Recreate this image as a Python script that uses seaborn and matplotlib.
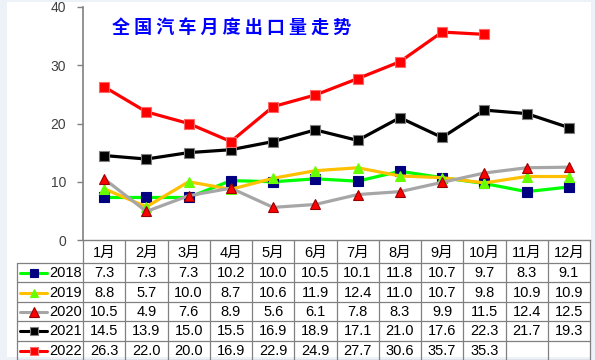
import numpy as np
import pandas as pd
import matplotlib
matplotlib.use("Agg")
import matplotlib.pyplot as plt
from matplotlib.lines import Line2D
from matplotlib.patches import Rectangle
import seaborn as sns

# data (unit: 10k vehicles)
months = ["1月", "2月", "3月", "4月", "5月", "6月", "7月", "8月", "9月", "10月", "11月", "12月"]
years = ["2018", "2019", "2020", "2021", "2022"]
v2018 = [7.3, 7.3, 7.3, 10.2, 10.0, 10.5, 10.1, 11.8, 10.7, 9.7, 8.3, 9.1]
v2019 = [8.8, 5.7, 10.0, 8.7, 10.6, 11.9, 12.4, 11.0, 10.7, 9.8, 10.9, 10.9]
v2020 = [10.5, 4.9, 7.6, 8.9, 5.6, 6.1, 7.8, 8.3, 9.9, 11.5, 12.4, 12.5]
v2021 = [14.5, 13.9, 15.0, 15.5, 16.9, 18.9, 17.1, 21.0, 17.6, 22.3, 21.7, 19.3]
v2022 = [26.3, 22.0, 20.0, 16.9, 22.9, 24.9, 27.7, 30.6, 35.7, 35.3, np.nan, np.nan]
title = "全国汽车月度出口量走势"

values = [v2018, v2019, v2020, v2021, v2022]
df = pd.DataFrame({
    "pos": np.tile(np.arange(len(months)), len(years)),
    "year": np.repeat(years, len(months)),
    "val": np.concatenate(values),
})

# look of each series: line colour, marker, marker face, marker edge
styles = {
    "2018": dict(color="#00FF00", marker="s", mfc="#000080", mec="#000080", ms=6.5),
    "2019": dict(color="#FFC000", marker="^", mfc="#66FF00", mec="#66FF00", ms=6.5),
    "2020": dict(color="#A6A6A6", marker="^", mfc="#FF0000", mec="#990000", ms=7.5),
    "2021": dict(color="#000000", marker="s", mfc="#000000", mec="#808080", ms=6.5),
    "2022": dict(color="#FF0000", marker="s", mfc="#FF0000", mec="#FF6666", ms=6.5),
}

sns.set_style("white")
fonts = ["Liberation Sans", "Noto Sans CJK SC", "DejaVu Sans"]
plt.rcParams["font.family"] = fonts

W, H = 595, 360
fig = plt.figure(figsize=(W / 100, H / 100), dpi=100, facecolor="#EDF2F9")

# pixel-coordinate layer for the frame and the data table
bg = fig.add_axes([0, 0, 1, 1], zorder=0)
bg.set_xlim(0, W)
bg.set_ylim(H, 0)
bg.axis("off")
bg.add_patch(Rectangle((7, 2), 584, 355, facecolor="white", edgecolor="none"))

x0, x1 = 83, 590
y_axis_bottom, y_top = 240, 7
ax = fig.add_axes([x0 / W, 1 - y_axis_bottom / H, (x1 - x0) / W, (y_axis_bottom - y_top) / H], zorder=2)
ax.patch.set_alpha(0)

for yr, vals in zip(years, values):
    st = styles[yr]
    sns.lineplot(data=df[df["year"] == yr], x="pos", y="val", ax=ax,
                 color=st["color"], lw=2.3, marker=st["marker"], markersize=st["ms"],
                 markerfacecolor=st["mfc"], markeredgecolor=st["mec"], markeredgewidth=0.8,
                 legend=False)

ax.set_xlim(-0.5, len(months) - 0.5)
ax.set_ylim(0, 40)
ax.set_yticks([0, 10, 20, 30, 40])
ax.set_xticks([])
ax.set_xlabel("")
ax.set_ylabel("")
ax.tick_params(axis="y", direction="out", length=4, width=1, color="#808080",
               labelsize=10, labelcolor="#404040", pad=8, left=True)
for s in ["top", "right"]:
    ax.spines[s].set_visible(False)
ax.spines["left"].set_color("#808080")
ax.spines["bottom"].set_color("#808080")
ax.spines["left"].set_linewidth(1.2)
ax.spines["bottom"].set_linewidth(1)

ax.text(0.294, 0.915, " ".join(title), transform=ax.transAxes, ha="center", va="center",
        color="#0000FF", fontsize=13, fontweight="bold",
        family=["Noto Sans CJK SC", "DejaVu Sans"])

# data table under the chart
grid_c = "#808080"
col_w = (x1 - x0) / len(months)
hdr_top, hdr_bot = 240, 263
row_h = 19.4
legend_left = 17
row_edges = [hdr_bot + i * row_h for i in range(len(years) + 1)]

for i in range(len(months) + 1):
    xx = x0 + i * col_w
    bg.plot([xx, xx], [hdr_top, H], color=grid_c, lw=0.9)
bg.plot([legend_left, legend_left], [hdr_bot, H], color=grid_c, lw=0.9)
for yy in row_edges:
    bg.plot([legend_left, x1], [yy, yy], color=grid_c, lw=0.9)

for i, m in enumerate(months):
    bg.text(x0 + (i + 0.5) * col_w, (hdr_top + hdr_bot) / 2 + 1, m, ha="center", va="center",
            fontsize=10.5, color="black")

for r, (yr, vals) in enumerate(zip(years, values)):
    yc = row_edges[r] + row_h / 2 + 0.5
    st = styles[yr]
    bg.add_line(Line2D([20, 47], [yc, yc], color=st["color"], lw=2.2))
    bg.add_line(Line2D([33.5], [yc], marker=st["marker"], markersize=st["ms"] - 0.5,
                       markerfacecolor=st["mfc"], markeredgecolor=st["mec"], markeredgewidth=0.8))
    bg.text(49, yc, yr, ha="left", va="center", fontsize=10.5, color="black")
    for i, v in enumerate(vals):
        if not np.isnan(v):
            bg.text(x0 + (i + 0.5) * col_w, yc, f"{v:.1f}", ha="center", va="center",
                    fontsize=10.5, color="black")

fig.savefig("out.png", dpi=100, facecolor=fig.get_facecolor())
